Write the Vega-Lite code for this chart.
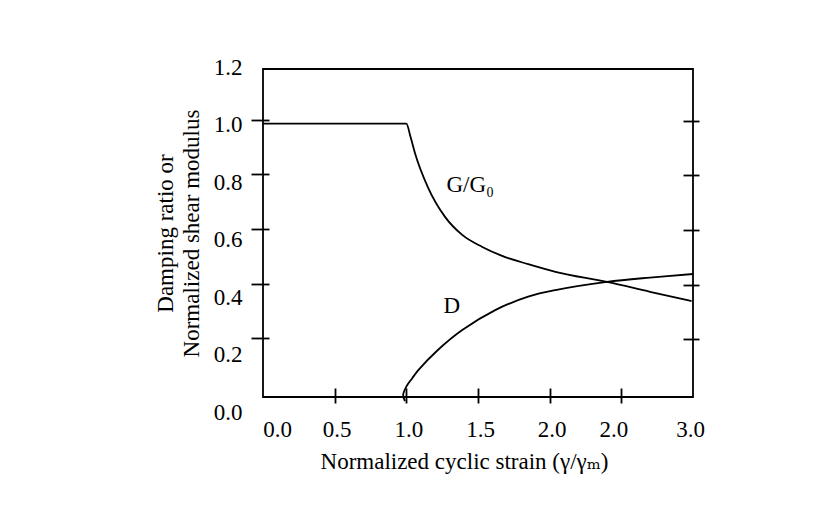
{
  "$schema": "https://vega.github.io/schema/vega-lite/v6.json",
  "width": 430,
  "height": 328,
  "autosize": {"type": "none"},
  "padding": {"left": 263, "top": 69, "right": 137, "bottom": 114},
  "background": "white",
  "datasets": {
    "curves": [
      {"series": "G", "i": 1, "strain": 0.0, "value": 1.0},
      {"series": "G", "i": 2, "strain": 1.0, "value": 1.0},
      {"series": "G", "i": 3, "strain": 1.03, "value": 0.95},
      {"series": "G", "i": 4, "strain": 1.06, "value": 0.893},
      {"series": "G", "i": 5, "strain": 1.15, "value": 0.768},
      {"series": "G", "i": 6, "strain": 1.27, "value": 0.659},
      {"series": "G", "i": 7, "strain": 1.39, "value": 0.593},
      {"series": "G", "i": 8, "strain": 1.53, "value": 0.549},
      {"series": "G", "i": 9, "strain": 1.69, "value": 0.512},
      {"series": "G", "i": 10, "strain": 1.85, "value": 0.486},
      {"series": "G", "i": 11, "strain": 2.04, "value": 0.458},
      {"series": "G", "i": 12, "strain": 2.4, "value": 0.421},
      {"series": "G", "i": 13, "strain": 2.7, "value": 0.385},
      {"series": "G", "i": 14, "strain": 2.99, "value": 0.351},
      {"series": "D", "i": 1, "strain": 0.99, "value": -0.015},
      {"series": "D", "i": 2, "strain": 0.978, "value": 0.008},
      {"series": "D", "i": 3, "strain": 1.0, "value": 0.038},
      {"series": "D", "i": 4, "strain": 1.04, "value": 0.068},
      {"series": "D", "i": 5, "strain": 1.085, "value": 0.099},
      {"series": "D", "i": 6, "strain": 1.22, "value": 0.172},
      {"series": "D", "i": 7, "strain": 1.39, "value": 0.245},
      {"series": "D", "i": 8, "strain": 1.62, "value": 0.318},
      {"series": "D", "i": 9, "strain": 1.85, "value": 0.367},
      {"series": "D", "i": 10, "strain": 2.04, "value": 0.391},
      {"series": "D", "i": 11, "strain": 2.4, "value": 0.421},
      {"series": "D", "i": 12, "strain": 2.7, "value": 0.437},
      {"series": "D", "i": 13, "strain": 3.0, "value": 0.45}
    ],
    "notes": [
      {"label": "G/G₀", "strain": 1.28, "value": 0.75},
      {"label": "D", "strain": 1.26, "value": 0.307}
    ]
  },
  "layer": [
    {
      "data": {"name": "curves"},
      "transform": [{"filter": "datum.series == 'G'"}],
      "mark": {"type": "line", "interpolate": "monotone", "color": "black", "strokeWidth": 1.8, "clip": false},
      "encoding": {
        "x": {
          "field": "strain", "type": "quantitative",
          "scale": {"domain": [0, 3], "nice": false, "zero": false},
          "axis": {
            "orient": "bottom",
            "values": [0, 0.5, 1, 1.5, 2, 2.5, 3],
            "labelExpr": "datum.value == 2.5 ? '2.0' : format(datum.value, '.1f')",
            "ticks": false, "tickSize": 0, "domain": false,
            "labelPadding": 21, "labelFlush": false, "labelOverlap": false, "labelBound": false,
            "labelOffset": {"expr": "datum.value == 0 ? 14 : datum.value == 2.5 ? -8 : datum.value == 3 ? -3 : 2"},
            "title": "Normalized cyclic strain (γ/γₘ)",
            "titleFont": "Liberation Serif, DejaVu Serif",
            "titlePadding": 9,
            "titleX": 201
          }
        },
        "y": {
          "field": "value", "type": "quantitative",
          "scale": {"domain": [0, 1.2], "nice": false, "zero": false},
          "axis": {
            "orient": "left",
            "values": [0, 0.2, 0.4, 0.6, 0.8, 1.0, 1.2],
            "format": ".1f",
            "ticks": false, "tickSize": 0, "domain": false,
            "labelPadding": 21, "labelFlush": false, "labelOverlap": false, "labelBound": false,
            "labelBaseline": "middle",
            "labelOffset": {"expr": "-2 + (1.2 - datum.value) * 14.2"},
            "title": ["Damping ratio or", "Normalized shear modulus"],
            "titlePadding": 10,
            "titleLineHeight": 26
          }
        }
      }
    },
    {
      "data": {"name": "curves"},
      "transform": [{"filter": "datum.series == 'D'"}],
      "mark": {"type": "line", "interpolate": "catmull-rom", "color": "black", "strokeWidth": 1.8, "clip": false},
      "encoding": {
        "x": {
          "field": "strain", "type": "quantitative",
          "axis": {
            "orient": "bottom",
            "values": [0.5, 1, 1.5, 2, 2.5],
            "labels": false, "domain": false, "title": null,
            "ticks": true, "tickSize": 15, "offset": -9
          }
        },
        "y": {
          "field": "value", "type": "quantitative",
          "axis": {
            "orient": "left",
            "values": [0.2, 0.4, 0.6, 0.8, 1.0],
            "labels": false, "domain": false, "title": null,
            "ticks": true, "tickSize": 18, "offset": -6, "tickOffset": -4
          }
        },
        "order": {"field": "i", "type": "quantitative"}
      }
    },
    {
      "data": {"name": "notes"},
      "mark": {"type": "text", "align": "left", "baseline": "alphabetic", "font": "Liberation Serif", "fontSize": 23, "color": "black"},
      "encoding": {
        "x": {"field": "strain", "type": "quantitative", "axis": null},
        "y": {
          "field": "value", "type": "quantitative",
          "axis": {
            "orient": "right",
            "values": [0.2, 0.4, 0.6, 0.8, 1.0],
            "labels": false, "domain": false, "title": null,
            "ticks": true, "tickSize": 16, "offset": -10, "tickOffset": -3
          }
        },
        "text": {"field": "label"}
      }
    }
  ],
  "resolve": {"axis": {"x": "independent", "y": "independent"}},
  "config": {
    "view": {"stroke": "black", "strokeWidth": 1.8},
    "axis": {
      "grid": false,
      "labelFont": "Liberation Serif",
      "titleFont": "Liberation Serif",
      "labelFontSize": 23,
      "titleFontSize": 23,
      "titleFontWeight": "normal",
      "labelColor": "black",
      "titleColor": "black",
      "tickColor": "black",
      "tickWidth": 1.8
    }
  }
}
